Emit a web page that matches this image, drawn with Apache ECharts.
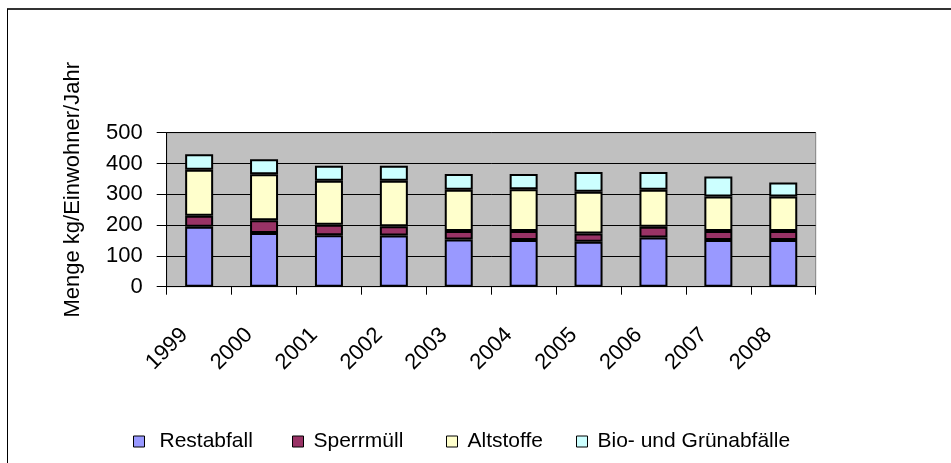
<!DOCTYPE html>
<html>
<head>
<meta charset="utf-8">
<script src="https://cdn.jsdelivr.net/npm/echarts@6/dist/echarts.min.js"></script>
<style>html,body{margin:0;padding:0;background:#fff;}#c{width:951px;height:463px;}</style>
</head>
<body>
<div id="c"></div>
<script>
var years = ['1999','2000','2001','2002','2003','2004','2005','2006','2007','2008'];
var seriesNames = ['Restabfall','Sperrmüll','Altstoffe','Bio- und Grünabfälle'];
var restabfall = [195,174,167,166,153,152,146,160,152,152];
var sperrmuell = [35,42,34,30,28,29,27,35,29,29];
var altstoffe  = [150,149,143,148,134,135,135,120,112,112];
var bio        = [50,49,49,49,51,50,64,57,65,45];
var yTicks = [0,100,200,300,400,500];
var yName = 'Menge kg/Einwohner/Jahr';

var colors = ['#9999FF','#993366','#FFFFCC','#CCFFFF'];
var values = [restabfall, sperrmuell, altstoffe, bio];
var FONT = "'Liberation Sans', Arial, sans-serif";

var chart = echarts.init(document.getElementById('c'), null, {renderer:'canvas'});

var series = seriesNames.map(function(n, i){
  return {
    name: n, type: 'bar', stack: 'total', data: values[i],
    barWidth: 28,
    itemStyle: {color: colors[i], borderColor: '#000', borderWidth: 2, borderType: 'solid'},
    emphasis: {disabled: true},
    animation: false
  };
});

var legendLefts = [133, 292, 446, 576];
var legendGaps = [10, 5, 5, 5];
var legends = seriesNames.map(function(n, i){
  return {
    data: [n], left: legendLefts[i], top: 431, padding: 0,
    icon: 'rect', itemWidth: 11, itemHeight: 11,
    itemStyle: {borderColor: '#000', borderWidth: 1},
    selectedMode: false,
    textStyle: {fontFamily: FONT, fontSize: 21, color: '#000', lineHeight: 21, padding: [0,0,0,legendGaps[i]]}
  };
});

chart.setOption({
  animation: false,
  backgroundColor: '#fff',
  grid: {left: 166.7, right: 135.3, top: 132.7, bottom: 176.3, show: true,
         backgroundColor: '#C0C0C0', borderColor: '#808080', borderWidth: 1},
  legend: legends,
  xAxis: {
    type: 'category', data: years,
    axisLine: {lineStyle: {color: '#000', width: 1}},
    axisTick: {show: true, alignWithLabel: false, length: 8, lineStyle: {color: '#000'}},
    axisLabel: {rotate: 45, margin: 30, fontFamily: FONT, fontSize: 22, color: '#000',
                padding: [0, 21, 0, 0], interval: 0}
  },
  yAxis: {
    type: 'value', min: yTicks[0], max: yTicks[yTicks.length-1], interval: 100,
    axisLine: {show: true, lineStyle: {color: '#000', width: 1}},
    axisTick: {show: true, length: 10, lineStyle: {color: '#000'}},
    axisLabel: {margin: 24, fontFamily: FONT, fontSize: 22, color: '#000'},
    splitLine: {show: true, lineStyle: {color: '#000', width: 1}}
  },
  series: series,
  graphic: [
    {type: 'line', shape: {x1: 7, y1: 9, x2: 951, y2: 9}, style: {stroke: '#333', lineWidth: 2}, silent: true},
    {type: 'line', shape: {x1: 7.5, y1: 9, x2: 7.5, y2: 463}, style: {stroke: '#000', lineWidth: 1}, silent: true},
    {type: 'text', x: 73, y: 62, rotation: Math.PI/2, silent: true,
     style: {text: yName, fontFamily: FONT, fontSize: 22, fill: '#000', align: 'right', verticalAlign: 'middle'}}
  ]
});
</script>
</body>
</html>
